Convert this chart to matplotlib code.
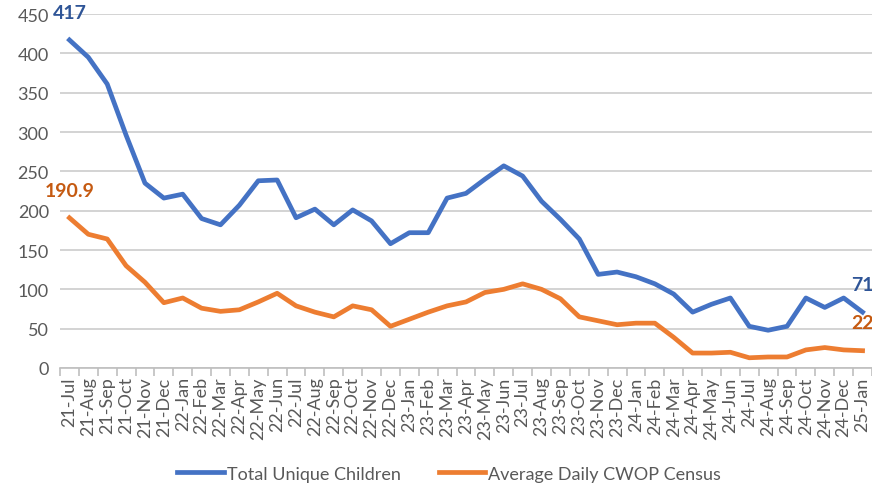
import matplotlib
matplotlib.use("Agg")
from matplotlib import pyplot as plt
import numpy as np

months = ["21-Jul", "21-Aug", "21-Sep", "21-Oct", "21-Nov", "21-Dec",
          "22-Jan", "22-Feb", "22-Mar", "22-Apr", "22-May", "22-Jun",
          "22-Jul", "22-Aug", "22-Sep", "22-Oct", "22-Nov", "22-Dec",
          "23-Jan", "23-Feb", "23-Mar", "23-Apr", "23-May", "23-Jun",
          "23-Jul", "23-Aug", "23-Sep", "23-Oct", "23-Nov", "23-Dec",
          "24-Jan", "24-Feb", "24-Mar", "24-Apr", "24-May", "24-Jun",
          "24-Jul", "24-Aug", "24-Sep", "24-Oct", "24-Nov", "24-Dec",
          "25-Jan"]

total_children = [417, 395, 361, 296, 235, 216,
                  221, 190, 182, 207, 238, 239,
                  191, 202, 182, 201, 187, 158,
                  172, 172, 216, 222, 240, 257,
                  244, 212, 189, 164, 119, 122,
                  116, 107, 94, 71, 81, 89,
                  53, 48, 53, 89, 77, 89,
                  71]

avg_census = [190.9, 170, 164, 130, 109, 83,
              89, 76, 72, 74, 84, 95,
              79, 71, 65, 79, 74, 53,
              62, 71, 79, 84, 96, 100,
              107, 100, 88, 65, 60, 55,
              57, 57, 39, 19, 19, 20,
              13, 14, 14, 23, 26, 23,
              22]

BLUE = '#4472C4'
ORANGE = '#ED7D31'
LABEL_BLUE = '#2F5597'
LABEL_ORANGE = '#C55A11'
TEXT = '#595959'

plt.rcParams['font.family'] = ['Lato', 'DejaVu Sans']

fig = plt.figure(figsize=(8.72, 4.89), dpi=100)
ax = fig.add_axes([0.0688, 0.2454, 0.9312, 0.7239])

x = np.arange(len(months))
ax.plot(x, total_children, color=BLUE, linewidth=3.4, label='Total Unique Children',
        solid_joinstyle='round', zorder=3)
ax.plot(x, avg_census, color=ORANGE, linewidth=3.4, label='Average Daily CWOP Census',
        solid_joinstyle='round', zorder=3)

# first / last point labels
for series, color in [(total_children, LABEL_BLUE), (avg_census, LABEL_ORANGE)]:
    for i in (0, len(series) - 1):
        v = series[i]
        ax.annotate('%g' % v, (x[i], v), xytext=(0, 20), textcoords='offset points',
                    ha='center', va='center', color=color, fontsize=14,
                    fontweight='bold', annotation_clip=False, zorder=4)

ax.set_xlim(-0.5, len(months) - 0.5)
ax.set_ylim(0, 450)
ax.set_yticks(np.arange(0, 451, 50))
ax.grid(axis='y', color='#D0D0D0', linewidth=1.3, zorder=0)
ax.set_axisbelow(True)

ax.set_xticks(x)
ax.set_xticklabels(months, rotation=90, color=TEXT, fontsize=13)
ax.set_xticks(np.arange(-0.5, len(months)), minor=True)
ax.tick_params(axis='x', which='major', length=0, pad=6)
ax.tick_params(axis='x', which='minor', length=6, color='#BFBFBF', width=1.2)
ax.tick_params(axis='y', length=0, labelcolor=TEXT, labelsize=13, pad=8)

for side in ['top', 'right', 'left']:
    ax.spines[side].set_visible(False)
ax.spines['bottom'].set_color('#BFBFBF')
ax.spines['bottom'].set_linewidth(1.2)

fig.legend(loc='center', bbox_to_anchor=(0.515, 0.029), ncol=2, frameon=False,
           fontsize=13, handlelength=2.6, handletextpad=0.15, columnspacing=2.1,
           labelcolor=TEXT)

fig.savefig('out.png', dpi=100)
